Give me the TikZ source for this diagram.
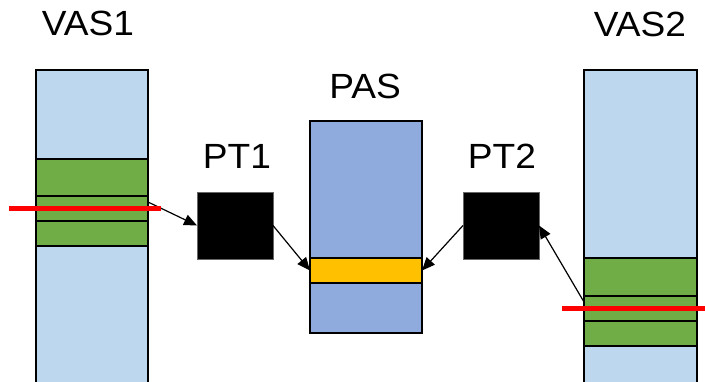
\documentclass[tikz,border=0pt]{standalone}
\usepackage{fontspec}
\setmainfont{Liberation Sans}
\usetikzlibrary{arrows.meta}
\definecolor{vasblue}{HTML}{BDD7EE}
\definecolor{pasblue}{HTML}{8FAADC}
\definecolor{pagegreen}{HTML}{70AD47}
\definecolor{pageyellow}{HTML}{FFC000}
\tikzset{
  blk/.style={draw=black, line width=1.5pt, inner sep=0pt, outer sep=0pt, rectangle, anchor=north west},
  lbl/.style={font=\fontsize{35}{35}\selectfont, inner sep=0pt, anchor=base, xscale=1.06, transform shape},
  ptbox/.style={draw=black!60, line width=0.8pt, fill=black, inner sep=0pt, outer sep=0pt, rectangle, anchor=north west, minimum width=76pt, minimum height=67pt},
  ptr/.style={-{Triangle[length=13pt,width=11pt]}, line width=1.2pt},
  tlb/.style={draw=red, line width=4.5pt}
}
\begin{document}
\begin{tikzpicture}[x=1pt,y=-1pt]
\useasboundingbox (0,0) rectangle (705,381);
\clip (0,0) rectangle (705,381);
% VAS1
\node[blk, fill=vasblue, minimum width=112pt, minimum height=340pt] (vas1) at (36,70) {};
\node[blk, fill=pagegreen, minimum width=112pt, minimum height=37pt] (v1a) at (36,159) {};
\node[blk, fill=pagegreen, minimum width=112pt, minimum height=25pt] (v1b) at (36,196) {};
\node[blk, fill=pagegreen, minimum width=112pt, minimum height=25pt] (v1c) at (36,221) {};
% VAS2
\node[blk, fill=vasblue, minimum width=113pt, minimum height=340pt] (vas2) at (584,70) {};
\node[blk, fill=pagegreen, minimum width=113pt, minimum height=38pt] (v2a) at (584,258) {};
\node[blk, fill=pagegreen, minimum width=113pt, minimum height=25pt] (v2b) at (584,296) {};
\node[blk, fill=pagegreen, minimum width=113pt, minimum height=25pt] (v2c) at (584,321) {};
% PAS
\node[blk, fill=pasblue, minimum width=112pt, minimum height=212pt] (pas) at (310,121) {};
\node[blk, fill=pageyellow, minimum width=112pt, minimum height=25pt] (frame) at (310,258) {};
% page tables
\node[ptbox] (pt1) at (197,192) {};
\node[ptbox] (pt2) at (463,192) {};
% labels
\node[lbl] (l1) at (88,35) {VAS1};
\node[lbl] (l2) at (640,36) {VAS2};
\node[lbl] (l3) at (365,98) {PAS};
\node[lbl] (l4) at (237,168) {PT1};
\node[lbl] (l5) at (502,168) {PT2};
% arrows
\draw[ptr] ([yshift=6.5pt]v1b.east) -- (pt1.west);
\draw[ptr] (pt1.east) -- (frame.west);
\draw[ptr] (pt2.west) -- (frame.east);
\draw[ptr] ([yshift=6.5pt]v2b.west) -- (pt2.east);
% red lines
\draw[tlb] ([xshift=-27pt]v1b.west) -- ([xshift=13pt]v1b.east);
\draw[tlb] ([xshift=-22pt]v2b.west) -- ([xshift=8pt]v2b.east);
\end{tikzpicture}
\end{document}
